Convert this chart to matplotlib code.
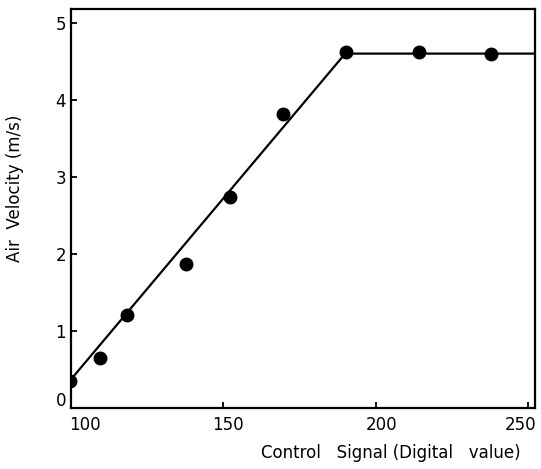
import matplotlib
matplotlib.use("Agg")
import matplotlib.pyplot as plt
from matplotlib.transforms import ScaledTranslation

# measured points (control signal vs air velocity)
signal = [99.7, 109.5, 118.3, 137.9, 152.3, 169.6, 190.2, 214.2, 237.8]
velocity = [0.35, 0.65, 1.21, 1.87, 2.74, 3.82, 4.62, 4.62, 4.60]

# fitted piecewise line
fit_signal = [100, 190, 252.3]
fit_velocity = [0.37, 4.60, 4.60]

x_ticks = [100, 150, 200, 250]
y_ticks = [0, 1, 2, 3, 4, 5]

plt.rcParams['font.family'] = ['DejaVu Sans']

fig = plt.figure(figsize=(5.41, 4.69), dpi=100)
ax = fig.add_axes([0.131, 0.130, 0.858, 0.851])

ax.plot(fit_signal, fit_velocity, color='black', lw=1.6, zorder=2)
ax.plot(signal, velocity, 'o', color='black', ms=9, zorder=3)

ax.set_xlim(100, 252.3)
ax.set_ylim(0, 5.18)
ax.set_xticks(x_ticks)
ax.set_yticks(y_ticks)
ax.tick_params(direction='in', length=4.5, width=1.3, labelsize=12, colors='black')
ax.tick_params(axis='x', pad=6)

for s in ax.spines.values():
    s.set_linewidth(1.6)

# nudge tick labels like in the original hand-lettered figure
x_shift = [14, 5, 6, -7]
for lab, dx in zip(ax.get_xticklabels(), x_shift):
    lab.set_transform(lab.get_transform() + ScaledTranslation(dx / 100, 0, fig.dpi_scale_trans))
y0 = ax.get_yticklabels()[0]
y0.set_transform(y0.get_transform() + ScaledTranslation(0, 9 / 100, fig.dpi_scale_trans))

ax.set_ylabel("Air  Velocity (m/s)", fontsize=12)
ax.yaxis.set_label_coords(-0.1, 0.55)
ax.set_xlabel("Control   Signal (Digital   value)", fontsize=12)
ax.xaxis.set_label_coords(0.69, -0.09)

fig.savefig("out.png", dpi=100)
